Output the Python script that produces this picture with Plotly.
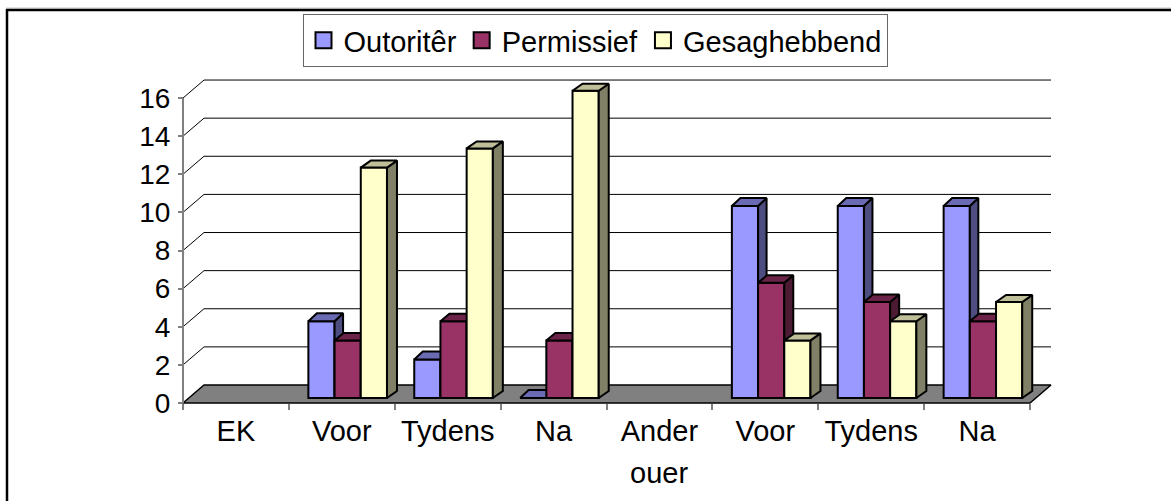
import plotly.graph_objects as go

# ---- data ----
categories = ["EK", "Voor", "Tydens", "Na", "Ander", "Voor", "Tydens", "Na"]
outoriter = [None, 4, 2, 0, None, 10, 10, 10]
permissief = [None, 3, 4, 3, None, 6, 5, 4]
gesaghebbend = [None, 12, 13, 16, None, 3, 4, 5]
series_names = ["Outoritêr", "Permissief", "Gesaghebbend"]
y_ticks = [0, 2, 4, 6, 8, 10, 12, 14, 16]

# ---- styling ----
W, H = 1171, 501
FONT = "Liberation Sans, Arial, sans-serif"
FS = 29
FS_Y = 28
front_cols = ["#9999FF", "#993366", "#FFFFCC"]
side_cols = ["#4D4D80", "#4D1A33", "#808066"]
top_cols = ["#6B6BB3", "#6B2447", "#BFBF99"]
FLOOR = "#808080"
AXIS = "#808080"

# axis geometry (pixels)
X0_PX, CAT_PX = 183.0, 105.875
Y0_PX, UNIT_PX = 403.0, 19.06
BAR_Y0_PX, BAR_UNIT_PX = 398.0, 19.2
WALL_DX, WALL_DY = 21 / CAT_PX, 18 / UNIT_PX
BAR_LEFT, BAR_W = 19.5 / CAT_PX, 26.2 / CAT_PX
DEPTH_X = [8.5 / CAT_PX, 9 / CAT_PX, 10 / CAT_PX]
DEPTH_Y = [8 / BAR_UNIT_PX, 7.5 / BAR_UNIT_PX, 7 / BAR_UNIT_PX]
LW = 2

x_range = [-X0_PX / CAT_PX, (W - X0_PX) / CAT_PX]
y_range = [-(H - Y0_PX) / UNIT_PX, Y0_PX / UNIT_PX]
bar_y_range = [-(H - BAR_Y0_PX) / BAR_UNIT_PX, BAR_Y0_PX / BAR_UNIT_PX]

fig = go.Figure()

# back wall gridlines + side wall diagonals
gx, gy = [], []
for v in y_ticks[1:]:
    gx += [0, WALL_DX, 8 + WALL_DX, None]
    gy += [v, v + WALL_DY, v + WALL_DY, None]
fig.add_trace(go.Scatter(x=gx, y=gy, mode="lines", line=dict(color="black", width=1),
                         showlegend=False, hoverinfo="skip"))
# floor
fig.add_trace(go.Scatter(x=[0, WALL_DX, 8 + WALL_DX, 8, 0], y=[0, WALL_DY, WALL_DY, 0, 0],
                         mode="lines", fill="toself", fillcolor=FLOOR,
                         line=dict(color="black", width=1.5), showlegend=False, hoverinfo="skip"))
# value axis line
fig.add_trace(go.Scatter(x=[0, 0], y=[0, 16], mode="lines", line=dict(color=AXIS, width=2),
                         showlegend=False, hoverinfo="skip"))

# one overlaid subplot per series, so later series paint over earlier side faces
all_series = [outoriter, permissief, gesaghebbend]
for s, vals in enumerate(all_series):
    ax = str(s + 2)
    xs = [i + 0.5 for i in range(len(categories))]
    offset = BAR_LEFT + s * BAR_W - 0.5
    fig.add_trace(go.Bar(x=xs, y=vals, width=BAR_W, offset=offset, xaxis="x" + ax, yaxis="y" + ax,
                         marker=dict(color=front_cols[s], line=dict(color="black", width=LW)),
                         name=series_names[s], showlegend=False, hoverinfo="y"))
    dx, dy = DEPTH_X[s], DEPTH_Y[s]
    sx, sy, tx, ty = [], [], [], []
    for i, v in enumerate(vals):
        if v is None:
            continue
        l = i + BAR_LEFT + s * BAR_W
        r = l + BAR_W
        sx += [r, r + dx, r + dx, r, r, None]
        sy += [0, dy, v + dy, v, 0, None]
        tx += [l, l + dx, r + dx, r, l, None]
        ty += [v, v + dy, v + dy, v, v, None]
    for px_, py_, col in ((sx, sy, side_cols[s]), (tx, ty, top_cols[s])):
        fig.add_trace(go.Scatter(x=px_, y=py_, xaxis="x" + ax, yaxis="y" + ax, mode="lines",
                                 fill="toself", fillcolor=col, line=dict(color="black", width=LW),
                                 showlegend=False, hoverinfo="skip"))

# legend entries
for s, name in enumerate(series_names):
    fig.add_trace(go.Scatter(x=[None], y=[None], mode="markers", name=name,
                             marker=dict(symbol="square", size=16, color=front_cols[s],
                                         line=dict(color="black", width=2))))

layout_axes = {}
for s in range(3):
    ax = str(s + 2)
    layout_axes["xaxis" + ax] = dict(range=x_range, overlaying="x", visible=False, fixedrange=True)
    layout_axes["yaxis" + ax] = dict(range=bar_y_range, overlaying="y", visible=False, fixedrange=True)


def hline(y, x0, x1, color, width):
    return dict(type="line", xref="paper", yref="paper", x0=x0 / W, x1=x1 / W,
                y0=1 - y / H, y1=1 - y / H, line=dict(color=color, width=width))


fig.update_layout(
    width=W, height=H, autosize=False,
    margin=dict(l=0, r=0, t=0, b=0),
    paper_bgcolor="white", plot_bgcolor="white",
    barmode="overlay",
    font=dict(family=FONT, size=FS, color="black"),
    xaxis=dict(range=x_range, domain=[0, 1], anchor="free", position=(H - Y0_PX) / H,
               tickmode="array", tickvals=[i + 0.5 for i in range(len(categories))],
               ticktext=categories, ticks="", showgrid=False, zeroline=False, showline=False,
               tickfont=dict(size=FS), ticklabelstandoff=8,
               minor=dict(tickmode="array", tickvals=list(range(len(categories) + 1)), ticks="outside",
                          ticklen=6, tickwidth=2, tickcolor=AXIS, showgrid=False)),
    yaxis=dict(range=y_range, domain=[0, 1], anchor="free", position=X0_PX / W, side="left",
               tickmode="array", tickvals=y_ticks, ticks="outside", ticklen=5, tickwidth=1.5,
               tickcolor=AXIS, showgrid=False, zeroline=False, showline=False,
               tickfont=dict(size=FS_Y), ticklabelstandoff=2),
    legend=dict(orientation="h", x=302.5 / W, y=1 - 14 / H, xanchor="left", yanchor="top",
                bordercolor="#666666", borderwidth=1, bgcolor="white", font=dict(size=FS),
                itemsizing="trace"),
    shapes=[
        hline(8, 6, W, "#C4C4C4", 1),
        hline(10, 6, W, "black", 2.5),
        dict(type="line", xref="paper", yref="paper", x0=7 / W, x1=7 / W, y0=0, y1=1 - 9 / H,
             line=dict(color="black", width=2.5)),
    ],
    annotations=[dict(text="ouer", xref="x", yref="paper", x=4.5, y=1 - 473 / H, showarrow=False,
                      xanchor="center", yanchor="middle", font=dict(size=FS))],
    **layout_axes,
)

fig.write_html("out.html", post_script="document.body.style.margin='0';",
               config=dict(displayModeBar=False))
